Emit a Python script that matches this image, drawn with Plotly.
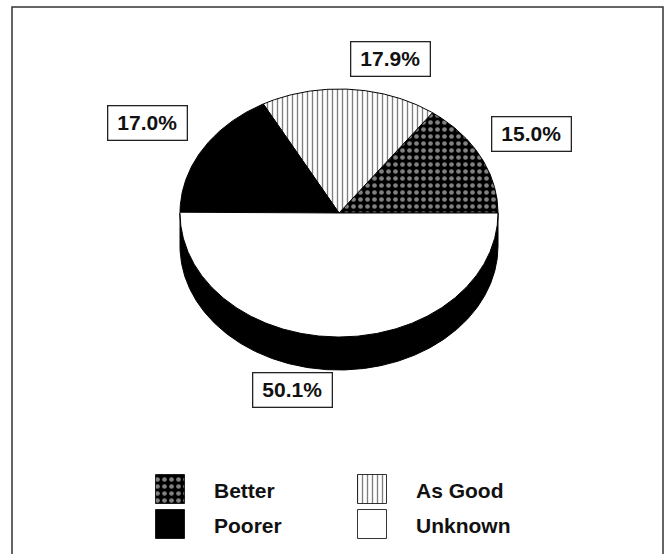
import numpy as np
import plotly.graph_objects as go

# Survey outcome shares (percent)
categories = ["Better", "As Good", "Poorer", "Unknown"]
shares = [15.0, 17.9, 17.0, 50.1]

# Fill style for each category
styles = {
    "Better": dict(fillcolor="black", pattern=dict(shape=".", fgcolor="white", bgcolor="black",
                                                     size=7, solidity=0.36)),
    "As Good": dict(fillcolor="white", pattern=dict(shape="|", fgcolor="black", bgcolor="white",
                                                      size=5, solidity=0.27)),
    "Poorer": dict(fillcolor="black", pattern=None),
    "Unknown": dict(fillcolor="white", pattern=None),
}

# Page and pie geometry (pixel space)
W, H = 668, 554
CX, CY, RX, RY, DEPTH = 339, 213, 159, 124, 33

# Value label boxes (centre x, centre y) and legend layout
label_pos = {"Better": (531, 134), "As Good": (390, 59), "Poorer": (147, 123), "Unknown": (292, 390)}
legend_pos = {"Better": (170, 489), "As Good": (372, 489), "Poorer": (170, 524), "Unknown": (372, 524)}
SW = 29  # legend swatch size
FONT = "Liberation Sans, Arial, sans-serif"


def arc(a0, a1, dy=0.0):
    n = max(int(abs(a1 - a0) * 2) + 2, 3)
    t = np.radians(np.linspace(a0, a1, n))
    return CX + RX * np.cos(t), CY + dy - RY * np.sin(t)


def fill_trace(xs, ys, fillcolor, pattern=None, line_w=1):
    kw = dict(x=list(xs), y=list(ys), mode="lines", fill="toself", fillcolor=fillcolor,
              line=dict(color="black", width=line_w), hoverinfo="skip", showlegend=False)
    if pattern:
        kw["fillpattern"] = pattern
    return go.Scatter(**kw)


fig = go.Figure()

total = sum(shares)
bounds = np.concatenate([[0.0], np.cumsum(shares) / total * 360.0])

# Side wall of the tilted disc (front half only is visible)
for i, cat in enumerate(categories):
    a0, a1 = max(bounds[i], 180.0), min(bounds[i + 1], 360.0)
    if a1 <= a0:
        continue
    xt, yt = arc(a0, a1)
    xb, yb = arc(a1, a0, DEPTH)
    fig.add_trace(fill_trace(np.r_[xt, xb, xt[:1]], np.r_[yt, yb, yt[:1]], "black"))

# Top faces of the slices
for i, cat in enumerate(categories):
    xa, ya = arc(bounds[i], bounds[i + 1])
    xs = np.r_[CX, xa, CX]
    ys = np.r_[CY, ya, CY]
    st = styles[cat]
    fig.add_trace(fill_trace(xs, ys, st["fillcolor"], st["pattern"]))

# Value labels in boxes
for cat, v in zip(categories, shares):
    x, y = label_pos[cat]
    fig.add_annotation(x=x, y=y, xref="x", yref="y", text=f"{v:.1f}%", showarrow=False,
                       font=dict(family=FONT, size=21, color="#111", weight="bold"),
                       bgcolor="white", bordercolor="#222", borderwidth=1.3, borderpad=0,
                       width=78, height=33)

# Legend: swatches plus names
for cat in categories:
    x, y = legend_pos[cat]
    h = SW / 2
    st = styles[cat]
    fig.add_trace(fill_trace([x - h, x + h, x + h, x - h, x - h],
                             [y - h, y - h, y + h, y + h, y - h],
                             st["fillcolor"], st["pattern"], line_w=0.8))
    fig.add_annotation(x=x + 42, y=y + 1, xref="x", yref="y", text=cat, showarrow=False,
                       xanchor="left", yanchor="middle",
                       font=dict(family=FONT, size=21, color="#111", weight="bold"))

# Frame around the chart
fig.add_shape(type="rect", x0=12, y0=7, x1=663, y1=H + 10, xref="x", yref="y",
              line=dict(color="#333", width=1.5))

fig.update_layout(
    width=W, height=H, margin=dict(l=0, r=0, t=0, b=0),
    paper_bgcolor="white", plot_bgcolor="white",
    xaxis=dict(range=[0, W], visible=False, fixedrange=True),
    yaxis=dict(range=[H, 0], visible=False, fixedrange=True),
    showlegend=False,
)

fig.write_html("out.html")
